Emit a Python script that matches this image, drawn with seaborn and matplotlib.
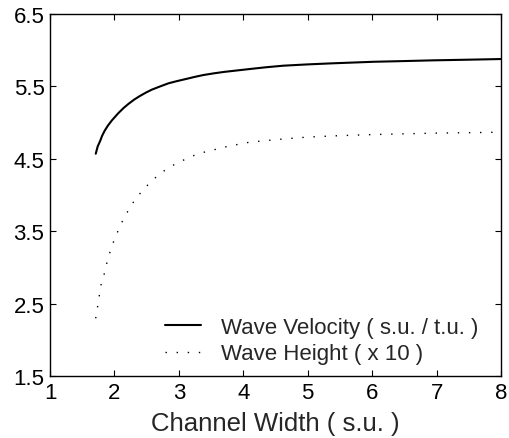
import matplotlib
matplotlib.use("Agg")
import matplotlib.pyplot as plt
import seaborn as sns
import pandas as pd

# Wave Velocity (s.u./t.u.) vs channel width
vel_x = [1.71, 1.74, 1.78, 1.81, 1.85, 1.90, 1.96, 2.01, 2.06, 2.14, 2.22, 2.31, 2.40, 2.49, 2.58,
         2.71, 2.84, 2.97, 3.10, 3.24, 3.38, 3.54, 3.70, 3.90, 4.10, 4.36, 4.62, 5.0, 5.39, 6.02, 6.5, 6.95, 7.5, 8.0]
vel_y = [4.57, 4.67, 4.75, 4.82, 4.89, 4.96, 5.03, 5.08, 5.13, 5.20, 5.26, 5.32, 5.37, 5.415, 5.455,
         5.50, 5.543, 5.573, 5.60, 5.63, 5.657, 5.68, 5.70, 5.72, 5.74, 5.765, 5.786, 5.804, 5.819, 5.84, 5.85, 5.86, 5.869, 5.878]

# Wave Height (x 10) vs channel width
hgt_x = [1.709, 1.73, 1.75, 1.77, 1.79, 1.83, 1.859, 1.89, 1.927, 1.968, 2.014, 2.067, 2.118,
         2.18, 2.247, 2.315, 2.40, 2.486, 2.579, 2.672, 2.775, 2.889, 3.003, 3.12, 3.24, 3.365,
         3.48, 3.75, 4.1, 4.62, 5.0, 5.5, 6.02, 7.0, 7.91, 8.0]
hgt_y = [2.297, 2.41, 2.52, 2.637, 2.752, 2.867, 2.974, 3.09, 3.20, 3.31, 3.42, 3.526, 3.627,
         3.733, 3.834, 3.931, 4.023, 4.11, 4.193, 4.267, 4.336, 4.40, 4.456, 4.50, 4.548, 4.585,
         4.61, 4.67, 4.73, 4.774, 4.80, 4.82, 4.835, 4.855, 4.866, 4.868]

labels = ["Wave Velocity ( s.u. / t.u. )", "Wave Height ( x 10 )"]
x_ticks = [1, 2, 3, 4, 5, 6, 7, 8]
y_ticks = [1.5, 2.5, 3.5, 4.5, 5.5, 6.5]
x_label = "Channel Width ( s.u. )"

sns.set_style("white")
plt.rcParams['font.family'] = ['Liberation Sans', 'DejaVu Sans']

df_v = pd.DataFrame({"x": vel_x, "y": vel_y})
df_h = pd.DataFrame({"x": hgt_x, "y": hgt_y})

fig = plt.figure(figsize=(5.09, 4.39), dpi=100)
ax = fig.add_axes([50/509, 1-377/439, 451/509, 362/439])

sns.lineplot(data=df_v, x="x", y="y", ax=ax, color="black", lw=1.5,
             label=labels[0], estimator=None, sort=False)
sns.lineplot(data=df_h, x="x", y="y", ax=ax, color="black", lw=1.0,
             linestyle=(0, (1, 7)), label=labels[1], estimator=None, sort=False)

ax.set_xlim(1, 8)
ax.set_ylim(1.5, 6.5)
ax.set_xticks(x_ticks)
ax.set_yticks(y_ticks)
ax.set_xticklabels([str(t) for t in x_ticks])
ax.set_yticklabels([f"{t:.1f}" for t in y_ticks])
ax.set_xlabel(x_label, fontsize=18.5, labelpad=6)
ax.set_ylabel("")
for s in ax.spines.values():
    s.set_color("black")
    s.set_linewidth(1.0)
    s.set_visible(True)
ax.tick_params(direction="in", length=4, width=0.8, top=True, right=True,
               bottom=True, left=True, labelsize=16, colors="black", pad=4)

leg = ax.legend(loc="lower right", bbox_to_anchor=(0.98, -0.005), frameon=False,
                fontsize=16, handlelength=1.65, handletextpad=0.9, labelspacing=0.25,
                borderaxespad=0.2)

fig.savefig("out.png", dpi=100)
